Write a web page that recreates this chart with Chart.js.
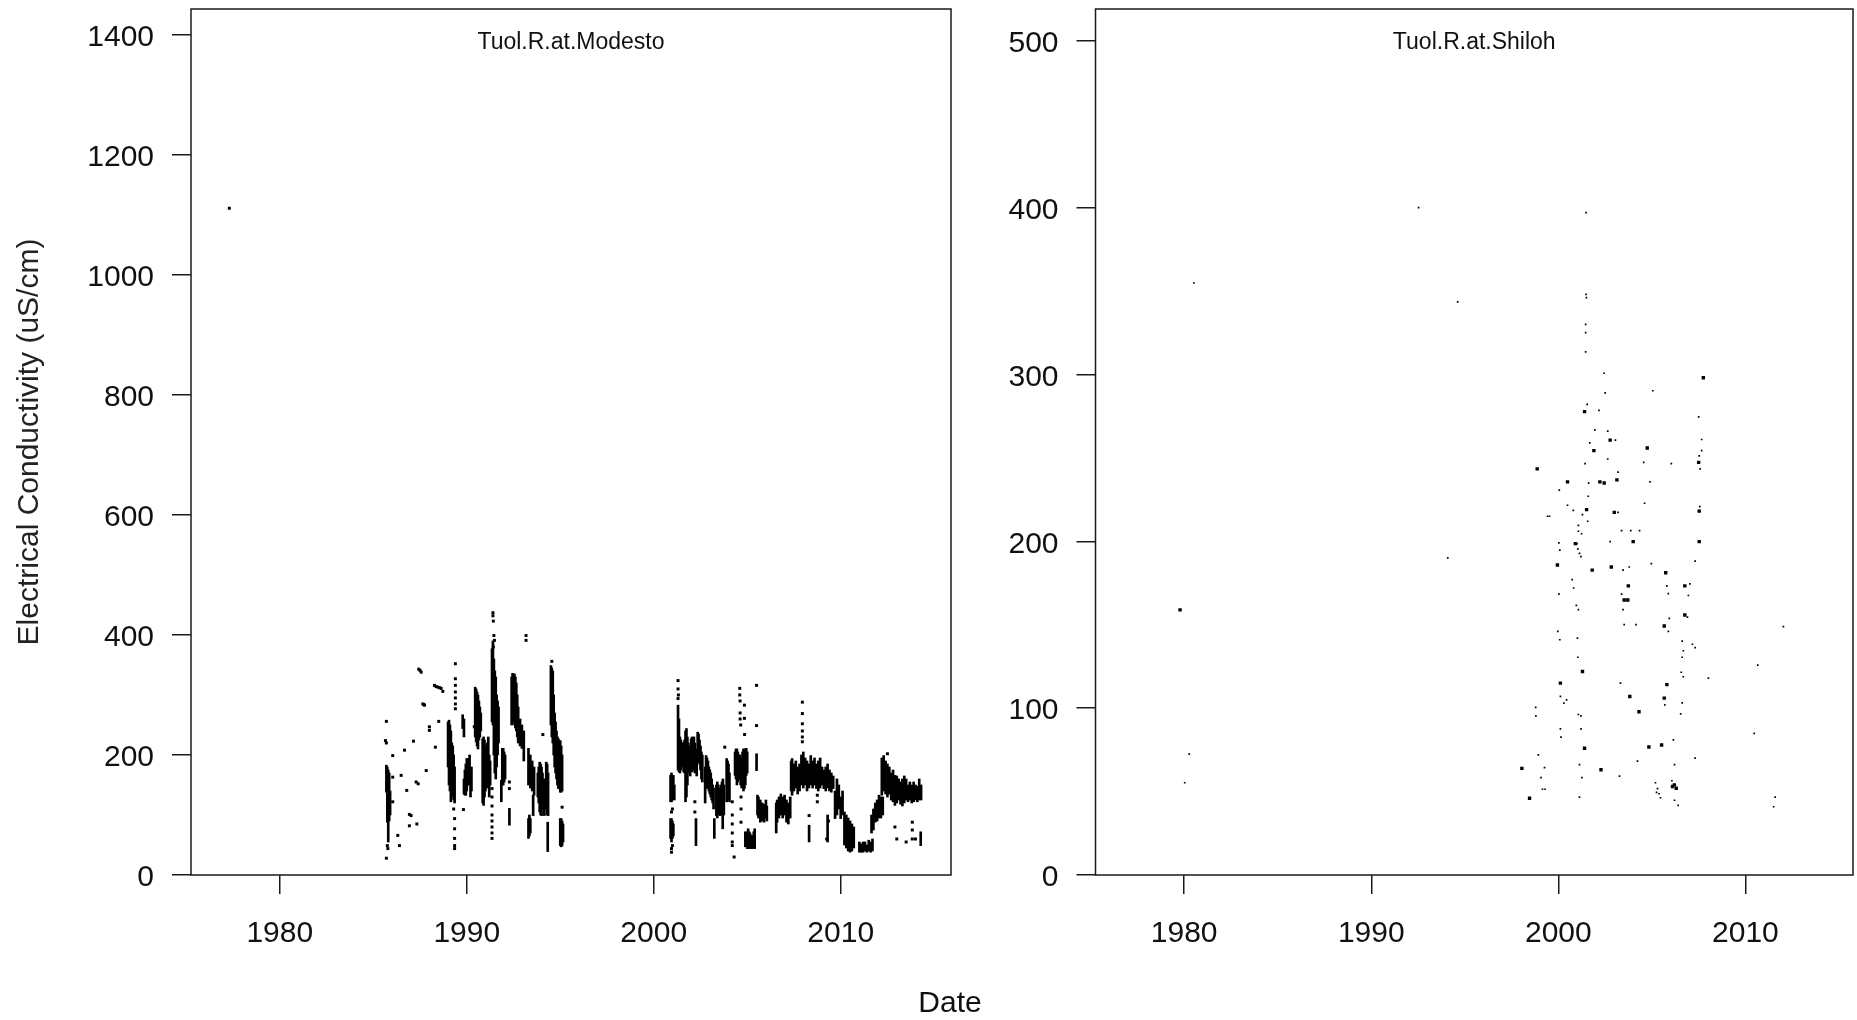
<!DOCTYPE html>
<html>
<head>
<meta charset="utf-8">
<script src="https://cdn.jsdelivr.net/npm/chart.js@4.4.1/dist/chart.umd.min.js"></script>
<style>
  html, body { margin: 0; padding: 0; background: #ffffff; width: 1857px; height: 1020px; overflow: hidden; }
  #leftWrap { position: absolute; left: 0; top: 0; width: 960px; height: 1020px; }
  #rightWrap { position: absolute; left: 960px; top: 0; width: 897px; height: 1020px; }
  #dateLabel { position: absolute; left: 850px; width: 200px; top: 984px; text-align: center;
    font-family: 'Liberation Sans', Arial, sans-serif; font-size: 30px; line-height: 36px; color: #111; }
</style>
</head>
<body>
<div id="leftWrap"><canvas id="modesto" width="960" height="1020"></canvas></div>
<div id="rightWrap"><canvas id="shiloh" width="897" height="1020"></canvas></div>
<div id="dateLabel">Date</div>
<script>
// ---------------- DATA ----------------
const xTickYears = [1980, 1990, 2000, 2010];
const modestoYTicks = [0, 200, 400, 600, 800, 1000, 1200, 1400];
const shilohYTicks = [0, 100, 200, 300, 400, 500];
const yLabel = 'Electrical Conductivity (uS/cm)';
const xLabel = 'Date';
const modestoTitle = 'Tuol.R.at.Modesto';
const shilohTitle = 'Tuol.R.at.Shiloh';

// Tuolumne R. at Modesto: dense daily record, summarised as [low, high] ranges per time slice
const modestoBandYear = [
  1985.70,1985.75,1985.80,1985.85,1985.90,
  1989.00,1989.05,1989.10,1989.15,1989.20,1989.25,1989.30,1989.35,
  1989.78,1989.85,
  1989.85,1989.90,1989.95,1990.00,1990.05,1990.10,1990.15,1990.20,1990.25,
  1990.45,1990.50,1990.55,1990.60,1990.65,1990.70,1990.75,
  1990.85,1990.90,1990.95,1991.00,1991.05,1991.10,1991.15,1991.20,1991.25,
  1991.35,1991.40,1991.45,1991.50,1991.55,1991.60,1991.65,1991.70,
  1991.85,1991.90,1991.95,1992.00,1992.05,1992.28,
  1992.40,1992.45,1992.50,1992.55,1992.60,1992.65,1992.70,1992.75,
  1992.85,1992.95,1993.05,
  1993.30,1993.40,1993.50,1993.60,1993.30,1993.35,1993.40,1993.55,
  1993.80,1993.85,1993.90,1993.95,1994.00,1994.05,1994.10,1994.15,1994.20,1994.25,1994.30,1994.35,1994.33,
  1994.50,1994.55,1994.60,1994.65,1994.70,1994.75,1994.80,1994.85,1994.90,
  1995.00,1995.05,1995.10,1995.00,1995.05,1995.10,1995.15,
  2000.90,2000.95,2001.00,2001.05,2001.10,2000.90,2000.95,2001.00,2001.05,
  2001.30,2001.35,2001.40,2001.45,2001.50,
  2001.60,2001.65,2001.70,2001.75,2001.80,2001.85,2001.90,2001.95,
  2002.00,2002.05,2002.10,2002.15,2002.20,2002.26,2002.30,
  2002.35,2002.40,2002.45,2002.50,2002.55,2002.60,2002.75,
  2002.80,2002.85,2002.90,2002.95,2003.00,2003.05,2003.10,2003.15,2003.20,2003.24,
  2003.35,2003.40,2003.45,2003.50,2003.55,2003.60,2003.65,2003.69,2003.70,2003.75,
  2003.90,2003.95,2004.00,2004.05,
  2004.35,2004.40,2004.45,2004.50,2004.55,2004.60,2004.65,2004.70,2004.75,2004.80,2004.85,2004.90,2004.95,2005.00,
  2004.90,2005.00,2005.05,2005.10,2005.15,2005.20,2005.25,2005.30,2005.35,2005.40,2005.50,
  2005.55,2005.60,2005.70,2005.80,2005.90,2006.00,2006.05,
  2006.55,2006.60,2006.70,2006.80,2006.90,2007.00,2007.10,2007.20,2007.30,
  2007.35,2007.40,2007.50,2007.60,2007.70,2007.80,2007.90,2008.00,2008.10,2008.20,2008.30,2008.31,
  2008.40,2008.50,2008.60,2008.70,2008.80,2008.90,2009.00,2009.10,2009.20,2009.30,2009.40,2009.50,2009.60,2009.30,
  2009.70,2009.80,2009.90,2010.00,2010.10,
  2010.20,2010.30,2010.40,2010.50,2010.60,2010.70,
  2011.00,2011.10,2011.20,2011.30,2011.40,2011.50,2011.60,2011.70,
  2011.65,2011.75,2011.85,2011.95,2012.05,2012.15,2012.25,
  2012.20,2012.30,2012.40,2012.50,2012.60,2012.70,2012.80,
  2012.90,2013.00,2013.10,2013.20,2013.30,2013.40,2013.50,
  2013.60,2013.70,2013.80,2013.90,2014.00,2014.10,2014.20,2014.30,2014.28
];
const modestoBandLow = [
  138,88,55,90,100,
  180,150,140,122,130,150,125,120,
  244,230,
  135,133,133,140,150,150,160,130,140,
  230,222,215,210,225,230,240,
  120,116,130,140,150,145,150,130,150,
  255,250,200,170,160,180,200,220,
  122,150,150,155,160,83,
  250,255,260,250,245,240,230,220,
  215,211,190,
  150,145,140,133,61,65,70,99,
  130,120,105,100,99,110,120,99,110,120,100,99,39,
  250,230,220,200,180,170,160,150,144,
  138,138,140,49,47,49,55,
  122,122,125,130,125,61,55,61,65,
  175,172,170,175,180,
  172,170,122,130,150,170,175,165,
  172,172,180,175,170,49,165,
  188,190,185,175,160,155,120,
  144,150,145,140,135,130,125,120,110,61,
  99,95,100,105,99,100,105,77,110,100,
  122,130,125,122,
  166,160,150,155,160,165,150,145,150,140,144,150,166,170,
  47,44,44,47,44,47,44,47,44,44,174,
  100,95,88,90,88,95,90,
  70,88,95,100,95,100,88,85,95,
  140,133,140,145,135,140,150,145,150,140,145,55,
  150,145,150,144,140,145,150,144,140,145,140,138,144,55,
  94,100,110,94,100,
  50,45,40,38,40,45,
  38,38,38,40,38,40,38,40,
  70,75,88,90,95,95,100,
  133,140,135,130,135,125,122,
  116,120,125,118,115,120,125,
  122,125,120,122,125,122,125,125,49
];
const modestoBandHigh = [
  183,180,175,170,140,
  255,258,250,240,220,215,200,180,
  267,260,
  160,175,185,194,194,190,200,175,180,
  313,310,305,300,290,280,270,
  227,230,225,215,210,220,230,200,190,
  377,390,360,340,330,300,290,280,
  158,211,211,205,200,111,
  330,336,334,335,330,320,300,280,
  260,250,240,
  211,200,190,180,94,100,94,133,
  170,180,188,185,180,170,160,150,160,188,185,170,88,
  349,345,340,300,270,255,240,230,227,
  224,215,200,94,94,90,85,
  166,170,160,166,150,94,94,90,85,
  283,260,230,225,220,
  221,225,240,244,230,220,215,210,
  227,230,225,230,220,94,210,
  238,235,225,215,205,200,180,
  199,195,190,180,175,170,160,150,145,94,
  150,155,150,140,145,150,155,144,160,150,
  194,190,185,170,
  205,210,210,205,200,200,195,190,205,210,210,205,211,205,
  72,72,77,72,70,66,60,66,72,77,202,
  133,130,125,120,118,125,115,
  120,125,130,135,130,133,125,120,130,
  190,194,185,190,180,185,200,205,195,190,185,83,
  199,190,195,185,190,195,180,175,180,185,175,170,165,100,
  140,160,150,130,140,
  105,100,95,90,85,80,
  55,52,55,55,50,58,55,60,
  100,110,120,125,133,130,130,
  195,199,190,185,180,170,175,
  166,165,160,155,160,165,160,
  150,155,150,155,150,148,160,150,72
];
// Modesto: isolated readings
const modestoPointYear = [
  1977.30,
  1985.70,1985.65,1985.70,1985.70,1985.75,1985.78,
  1986.04,1986.04,1986.04,1986.31,1986.40,1986.49,1986.67,1986.79,1986.93,1986.93,1987.02,1987.15,
  1987.29,1987.40,1987.33,1987.43,1987.50,1987.56,1987.65,1987.70,1987.74,1987.83,1988.00,1988.00,
  1988.27,1988.36,1988.45,1988.55,1988.63,1988.72,1988.32,1988.50,
  1989.39,1989.39,1989.39,1989.39,1989.39,1989.39,1989.39,1989.35,1989.35,1989.35,1989.35,1989.35,1989.30,
  1989.82,1990.40,1990.45,
  1991.35,1991.35,1991.35,1991.35,1991.35,1991.35,1991.35,1991.35,
  1991.40,1991.40,1991.42,1991.45,1991.48,1991.42,
  1992.28,1992.28,1993.17,1993.17,1994.07,1994.55,1995.10,
  2000.95,2000.95,2001.00,2000.95,2001.00,
  2001.30,2001.30,2001.32,2001.30,
  2002.20,2002.20,2003.80,
  2004.20,2004.20,2004.20,2004.20,2004.20,2004.30,2004.20,
  2004.60,2004.60,2004.62,2004.62,2004.62,2004.65,2004.67,2004.67,2004.67,
  2004.85,2004.85,2004.86,2005.50,2005.50,
  2007.95,2007.95,2007.95,2007.95,2007.95,2007.95,
  2008.31,2008.75,2008.75,2009.25,2009.35,2012.50,
  2012.90,2013.00,2013.50,2013.83,2013.83,2013.83,2014.00
];
const modestoPointValue = [
  1111,
  256,224,220,28,49,44,
  199,163,122,66,49,166,208,141,101,82,99,223,
  155,152,85,343,341,338,285,284,283,174,247,241,
  316,314,313,312,311,306,213,256,
  352,327,316,305,295,285,277,94,77,61,49,44,110,
  109,247,247,
  144,130,115,100,90,80,70,61,
  437,432,423,399,391,380,
  144,155,399,391,234,356,113,
  38,44,49,105,110,
  324,310,300,294,
  105,122,213,
  55,70,85,100,122,30,49,
  311,300,290,270,260,250,88,110,130,
  283,261,234,316,249,
  288,269,252,240,230,222,
  99,122,133,60,90,202,
  80,60,55,60,75,88,60
];

// Tuolumne R. at Shiloh: grab samples
const shilohYear = [
  1980.52,1980.27,1980.03,1992.53,1994.62,1994.09,
  1998.79,1998.80,1998.93,1999.07,1999.15,1999.29,1999.26,1999.42,1999.53,
  2000.03,2000.08,2000.05,2000.03,1999.97,2000.08,2000.11,2000.30,2000.44,2000.11,2000.14,
  2000.49,2000.80,2000.74,2000.82,2000.96,2001.07,2001.00,2001.07,2001.07,2001.13,2001.21,2001.04,
  2001.02,2001.04,2001.07,2001.21,2001.21,2001.13,2001.26,2001.13,
  2001.48,2001.48,2001.50,2001.46,2001.46,2001.46,2001.54,2001.43,2001.62,2001.60,2001.57,2001.29,2001.24,
  2001.68,2002.17,2002.50,2002.45,2001.95,2002.64,2003.05,2002.64,2002.77,2003.19,2003.19,
  2003.38,2003.87,2004.34,2003.46,2003.79,2003.38,2003.46,2003.52,2004.15,2003.32,2004.23,2003.27,
  2004.61,2004.56,2004.90,2005.05,2004.97,2005.80,2005.88,2006.04,2005.93,2005.88,2005.69,
  2006.15,2006.21,2006.07,2005.19,2005.30,2005.38,2005.25,2005.46,2006.21,2006.40,
  2006.62,2006.68,2006.62,2006.90,2007.03,2006.95,2006.57,2006.68,2006.62,2006.54,
  2007.17,2007.31,2007.31,2007.56,2007.58,2007.53,2007.66,2007.66,2007.50,2007.31,
  2008.02,2010.66,2010.47,2012.03,2011.51,2011.59
];
const shilohValue = [
  354.8,72.4,55.3,400,343.5,190,
  100.5,95.4,72,58.4,51.4,51.4,64.3,215,215,
  199,194.7,230.6,168.3,146,141,107,103,105,87.6,82.6,
  221.6,218.5,177,172,161.6,159,198.6,206,209.5,192.8,190.8,195.5,
  142,130.5,96.2,95.4,87.6,66.2,58.4,46.7,
  397,348,346,330,325,313.5,282,246.5,234.9,227,212,216,204.5,
  259,278.5,289,300.7,266.8,266,260.6,249.3,199.8,241.5,217.3,
  206.4,206.4,206.4,182.7,184.6,168.3,159,150,150,115,68.2,59.2,
  222.8,247.3,235.6,290.2,186.6,173.3,168.6,246.5,153.8,146,102,
  81,66.2,56.5,55.3,51.8,48.7,49.5,46.3,44.8,41.7,
  140.2,134.4,130.5,154.6,174.5,167.5,121.5,118.8,103.2,96.6,
  138.3,136.3,188.1,220.8,243.4,251.2,254.3,261,274.6,70.1,
  118,125.8,84.9,148.8,40.9,46.7
];
// Shiloh: dates with several overlapping samples (heavier dots)
const shilohRepeatYear = [
  1979.78,1998.87,1998.05,1998.46,1999.95,2000.49,2000.11,2000.91,2001.29,2001.40,2001.40,2001.51,
  2001.81,2001.90,2002.22,2002.45,2002.77,2003.13,2002.99,2004.00,2002.83,2003.74,2003.52,2003.71,
  2003.82,2004.31,2004.75,2005.74,2005.66,2005.80,2005.66,2005.52,2004.84,2006.10,2006.20,2006.30,
  2006.76,2006.76,2007.53,2007.53,2007.50,2007.75,2002.28
];
const shilohRepeatValue = [
  158.9,243.4,63.9,46,185.8,235.6,115,198.6,122,76,277.7,219,
  182.7,254.3,235.6,234.9,260.6,236.8,217.3,199.8,184.6,173.3,164.8,164.8,
  107,97.8,255.9,181.1,149.2,114.1,106,77.9,76.7,53,54,52,
  155.8,173.3,199.8,218.1,247.3,298,63.1
];

// ---------------- CHARTS ----------------
const FONT = "'Liberation Sans', Arial, Helvetica, sans-serif";
Chart.defaults.font.family = FONT;
Chart.defaults.color = '#111';

const panelBox = {
  id: 'panelBox',
  afterDatasetsDraw(chart, args, opts) {
    const { ctx, chartArea: a } = chart;
    ctx.save();
    ctx.strokeStyle = '#1a1a1a';
    ctx.lineWidth = opts.lineWidth;
    ctx.strokeRect(a.left, a.top, a.right - a.left, a.bottom - a.top);
    ctx.fillStyle = '#111';
    ctx.font = opts.fontSize + 'px ' + FONT;
    ctx.textAlign = 'center';
    ctx.textBaseline = 'middle';
    ctx.fillText(opts.text, (a.left + a.right) / 2, a.top + opts.offset);
    ctx.restore();
  }
};

function toPoints(xs, ys) { return xs.map((x, i) => ({ x: x, y: ys[i] })); }
function toBands(xs, lo, hi) { return xs.map((x, i) => ({ x: x, y: [lo[i], hi[i]] })); }

function makeScales(opt) {
  return {
    x: {
      type: 'linear', min: opt.xmin, max: opt.xmax, offset: false,
      afterBuildTicks: s => { s.ticks = xTickYears.map(v => ({ value: v })); },
      afterFit: s => { s.height = opt.xHeight; s.paddingLeft = 0; s.paddingRight = 0; },
      ticks: { autoSkip: false, maxRotation: 0, padding: 22, color: '#111',
        font: { size: 30 }, callback: v => String(v) },
      grid: { drawOnChartArea: false, drawTicks: true, tickLength: 19, color: '#1a1a1a', lineWidth: 1.5, offset: false },
      border: { display: false }
    },
    y: {
      type: 'linear', min: 0, max: opt.ymax,
      afterBuildTicks: s => { s.ticks = opt.yTicks.map(v => ({ value: v })); },
      afterFit: s => { s.width = opt.yWidth; s.paddingTop = 0; s.paddingBottom = 0; },
      ticks: { autoSkip: false, padding: 18, labelOffset: 3, color: '#111', font: { size: 30 }, callback: v => String(v) },
      grid: { drawOnChartArea: false, drawTicks: true, tickLength: 19, color: '#1a1a1a', lineWidth: 1.5 },
      border: { display: false },
      title: opt.yTitle ? { display: true, text: opt.yTitle, color: '#222', font: { size: 30 },
        padding: { top: 12, bottom: 0 } } : { display: false }
    }
  };
}

const common = {
  responsive: false,
  animation: false,
  events: [],
  devicePixelRatio: 1
};

new Chart(document.getElementById('modesto'), {
  type: 'scatter',
  data: {
    datasets: [
      {
        type: 'bar',
        label: 'Modesto (daily range)',
        data: toBands(modestoBandYear, modestoBandLow, modestoBandHigh),
        backgroundColor: '#000',
        borderWidth: 0,
        barThickness: 2,
        grouped: false
      },
      {
        type: 'scatter',
        label: 'Modesto',
        data: toPoints(modestoPointYear, modestoPointValue),
        pointStyle: 'rect',
        pointRadius: 2.1,
        backgroundColor: '#000',
        borderWidth: 0
      }
    ]
  },
  options: Object.assign({}, common, {
    layout: { padding: { top: 9, right: 9, left: 0, bottom: 0 } },
    scales: makeScales({ xmin: 1975.25, xmax: 2015.9, ymax: 1443, yTicks: modestoYTicks,
      yWidth: 191, xHeight: 145, yTitle: yLabel }),
    plugins: {
      legend: { display: false },
      tooltip: { enabled: false },
      panelBox: { text: modestoTitle, fontSize: 23, offset: 34, lineWidth: 1.5 }
    }
  }),
  plugins: [panelBox]
});

new Chart(document.getElementById('shiloh'), {
  type: 'scatter',
  data: {
    datasets: [
      {
        label: 'Shiloh',
        data: toPoints(shilohYear, shilohValue),
        pointStyle: 'rect',
        pointRadius: 1.2,
        backgroundColor: '#000',
        borderWidth: 0
      },
      {
        label: 'Shiloh (repeat samples)',
        data: toPoints(shilohRepeatYear, shilohRepeatValue),
        pointStyle: 'rect',
        pointRadius: 2.4,
        backgroundColor: '#000',
        borderWidth: 0
      }
    ]
  },
  options: Object.assign({}, common, {
    layout: { padding: { top: 9, right: 2.4, left: 0, bottom: 0 } },
    scales: makeScales({ xmin: 1975.26, xmax: 2015.75, ymax: 519, yTicks: shilohYTicks,
      yWidth: 135.5, xHeight: 145, yTitle: null }),
    plugins: {
      legend: { display: false },
      tooltip: { enabled: false },
      panelBox: { text: shilohTitle, fontSize: 23, offset: 34, lineWidth: 1.5 }
    }
  }),
  plugins: [panelBox]
});
</script>
</body>
</html>
